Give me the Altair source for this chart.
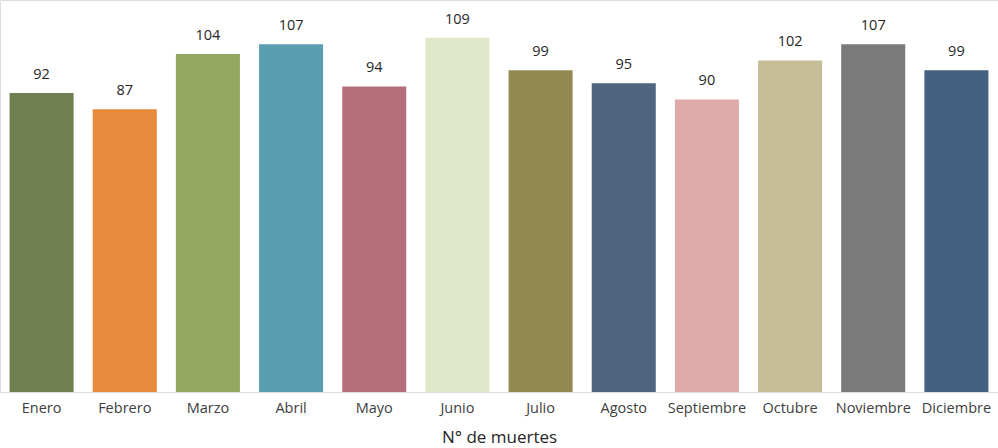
import altair as alt
import pandas as pd

# Monthly death counts
months = ["Enero", "Febrero", "Marzo", "Abril", "Mayo", "Junio", "Julio",
          "Agosto", "Septiembre", "Octubre", "Noviembre", "Diciembre"]
deaths = [92, 87, 104, 107, 94, 109, 99, 95, 90, 102, 107, 99]
colors = ["#6f7f52", "#e88a3c", "#94a862", "#5a9daf", "#b3707c", "#dfe7c9",
          "#938951", "#4f657f", "#e0aaa8", "#c4bd97", "#7a7a7a", "#46617f"]

df = pd.DataFrame({"mes": months, "muertes": deaths})

FONT = "Open Sans"

x = alt.X(
    "mes:N",
    sort=months,
    scale=alt.Scale(paddingInner=0.23, paddingOuter=0.115),
    axis=alt.Axis(
        title="N° de muertes",
        labelAngle=0,
        labelFont=FONT,
        labelFontSize=14.5,
        labelColor="#404040",
        labelPadding=9,
        ticks=False,
        domain=False,
        titleFont=FONT,
        titleFontSize=17,
        titleFontWeight="normal",
        titleColor="#262626",
        titlePadding=15,
    ),
)
y = alt.Y(
    "muertes:Q",
    scale=alt.Scale(domain=[0, 120.6], nice=False),
    axis=None,
)

bars = alt.Chart(df).mark_bar().encode(
    x=x,
    y=y,
    color=alt.Color("mes:N", sort=months,
                    scale=alt.Scale(domain=months, range=colors), legend=None),
)

labels = alt.Chart(df).mark_text(
    dy=-11, font=FONT, fontSize=14.5, color="#262626", baseline="bottom"
).encode(
    x=alt.X("mes:N", sort=months),
    y=y,
    text="muertes:Q",
)

chart = (
    alt.layer(bars, labels)
    .properties(
        width=998,
        height=392,
        padding={"left": 0, "top": 0, "right": 0, "bottom": 0},
        autosize=alt.AutoSizeParams(type="pad"),
    )
    .configure_view(stroke=None)
    .configure(background="white")
)

chart.save("out.html", embed_options={"renderer": "svg", "actions": False})
